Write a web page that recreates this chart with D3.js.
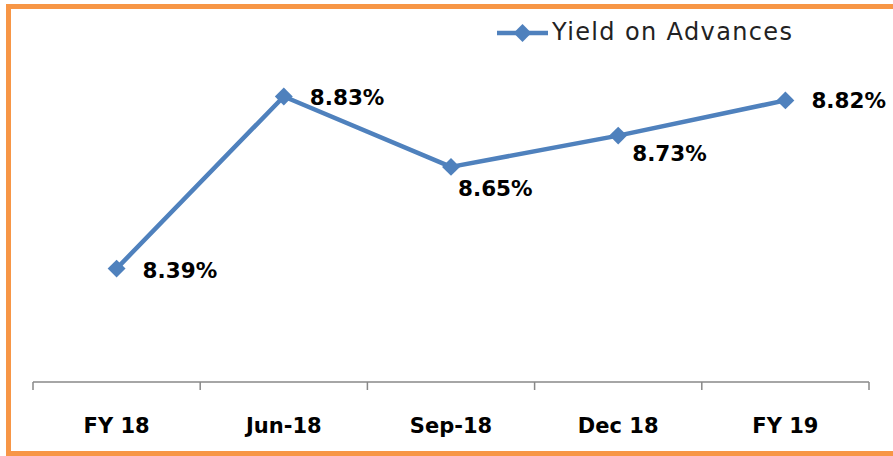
<!DOCTYPE html>
<html><head><meta charset="utf-8">
<script src="https://cdn.jsdelivr.net/npm/d3@7"></script>
<style>html,body{margin:0;padding:0;background:#fff;}svg{display:block;}</style>
</head><body>
<svg id="chart" width="893" height="456"></svg>
<script>
const categories = ["FY 18", "Jun-18", "Sep-18", "Dec 18", "FY 19"];
const yieldValues = [8.39, 8.83, 8.65, 8.73, 8.82];
const seriesName = "Yield on Advances";
const yDomain = [8.1, 9.0];
// label placement per point (layout only)
const labelOffsets = [[26, 3], [26, 3], [7, 23], [14, 19], [26, 2]];

const svg = d3.select("#chart");
const FONT = "'Century Gothic', 'DejaVu Sans', sans-serif";

svg.append("rect").attr("x", 8.5).attr("y", 6.5).attr("width", 920).attr("height", 447)
  .attr("fill", "#fff").attr("stroke", "#F79646").attr("stroke-width", 5);

const x = d3.scaleBand().domain(categories).range([33, 869]).paddingInner(0).paddingOuter(0);
const y = d3.scaleLinear().domain(yDomain).range([382, 30]);
const cx = d => x(d) + x.bandwidth() / 2;

// x axis
const axisG = svg.append("g").attr("transform", "translate(0,382)");
axisG.call(d3.axisBottom(x).tickSize(0).tickPadding(0));
axisG.select(".domain").attr("stroke", "#888").attr("stroke-width", 1.5).attr("d", "M33,0H869");
axisG.selectAll(".tick line").remove();
const bounds = categories.map(c => x(c)).concat([x(categories[categories.length-1]) + x.bandwidth()]);
axisG.selectAll("line.bt").data(bounds).enter().append("line")
  .attr("x1", d => d).attr("x2", d => d).attr("y1", 0).attr("y2", 8)
  .attr("stroke", "#888").attr("stroke-width", 1.5);
axisG.selectAll(".tick text").attr("font-family", FONT).attr("font-weight", "bold")
  .attr("font-size", 21).attr("fill", "#000").attr("dy", 0).attr("y", 51);

// line
const line = d3.line().x((d, i) => cx(categories[i])).y(d => y(d));
svg.append("path").datum(yieldValues).attr("d", line).attr("fill", "none")
  .attr("stroke", "#4F81BD").attr("stroke-width", 4.5).attr("stroke-linejoin", "round");

const marker = d3.symbol().type(d3.symbolSquare).size(160);
svg.selectAll("path.mk").data(yieldValues).enter().append("path")
  .attr("class", "mk")
  .attr("d", marker)
  .attr("transform", (d, i) => `translate(${cx(categories[i])},${y(d)}) rotate(45)`)
  .attr("fill", "#4F81BD");

// labels
svg.selectAll("text.lbl").data(yieldValues).enter().append("text")
  .attr("class", "lbl")
  .attr("x", (d, i) => cx(categories[i]) + labelOffsets[i][0])
  .attr("y", (d, i) => y(d) + labelOffsets[i][1])
  .attr("dominant-baseline", "middle")
  .attr("font-family", FONT).attr("font-weight", "bold").attr("font-size", 21.5)
  .attr("fill", "#000")
  .text(d => d.toFixed(2) + "%");

// legend
const lg = svg.append("g").attr("transform", "translate(497,33)");
lg.append("line").attr("x1", 0).attr("x2", 51).attr("y1", 0).attr("y2", 0)
  .attr("stroke", "#4F81BD").attr("stroke-width", 4.5);
lg.append("path").attr("d", marker)
  .attr("transform", "translate(25.5,0) rotate(45)").attr("fill", "#4F81BD");
lg.append("text").attr("x", 55).attr("y", 0).attr("dominant-baseline", "middle")
  .attr("font-family", FONT).attr("font-size", 24).attr("fill", "#222")
  .attr("textLength", 240).attr("lengthAdjust", "spacing").text(seriesName);
</script>
</body></html>
